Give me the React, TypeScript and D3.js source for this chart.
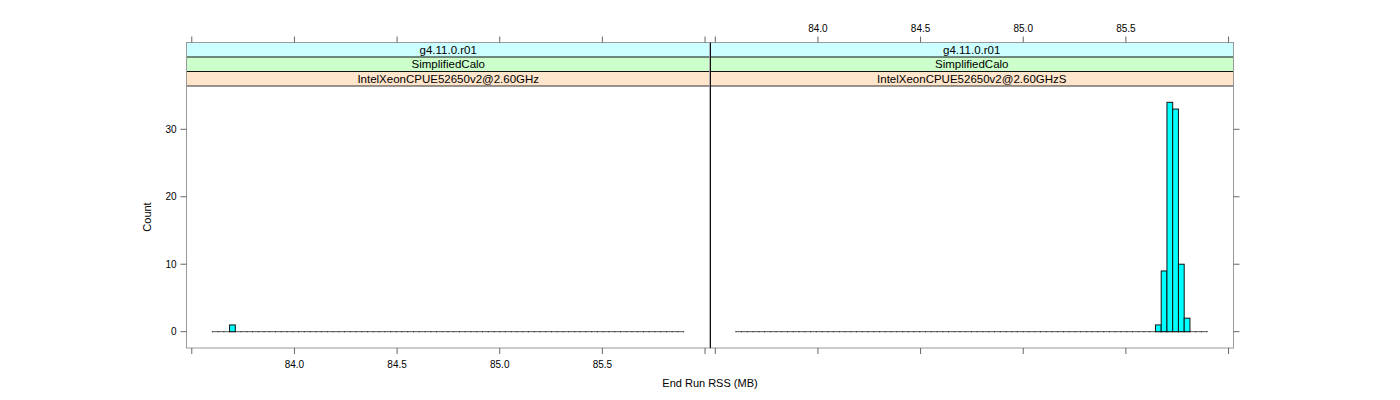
import React from "react";
import * as d3 from "d3";

// ---- data ----
const panelNames = ["IntelXeonCPUE52650v2@2.60GHz", "IntelXeonCPUE52650v2@2.60GHzS"];
const stripVersion = "g4.11.0.r01";
const stripTest = "SimplifiedCalo";
const breakStart = 83.6;
const breakEnd = 85.896;
const binWidth = 0.028;
// non-empty bins: left edge of bin and its count
const leftBinStarts = [83.684];
const leftCounts = [1];
const rightBinStarts = [85.644, 85.672, 85.7, 85.728, 85.756, 85.784];
const rightCounts = [1, 9, 34, 33, 10, 2];
const xTicks = [83.5, 84.0, 84.5, 85.0, 85.5, 86.0];
const xTickLabels = ["", "84.0", "84.5", "85.0", "85.5", ""];
const yTicks = [0, 10, 20, 30];
const xLabel = "End Run RSS (MB)";
const yLabel = "Count";

const FONT = "'Liberation Sans', Arial, Helvetica, sans-serif";

export default function App() {
  const panelW = 523.5;
  const panelLefts = [186.5, 710];
  const top = 86;
  const bottom = 348;
  const stripTop = 42.5;
  const stripH = (top - stripTop) / 3;

  const y = d3.scaleLinear().domain([-2.42, 36.42]).range([bottom, top]);
  const panels = [
    { starts: leftBinStarts, counts: leftCounts },
    { starts: rightBinStarts, counts: rightCounts },
  ];

  const nBins = Math.round((breakEnd - breakStart) / binWidth);
  const edges = d3.range(nBins + 1).map((i) => breakStart + i * binWidth);

  return (
    <svg
      width={1400}
      height={400}
      style={{ position: "absolute", left: 0, top: 0, background: "white" }}
      fontFamily={FONT}
    >
      {panels.map((p, pi) => {
        const L = panelLefts[pi];
        const x = d3.scaleLinear().domain([83.4742, 86.0242]).range([L, L + panelW]);
        const y0 = y(0);
        return (
          <g key={pi}>
            {/* strips */}
            {[
              { t: stripVersion, fill: "#CCFFFF" },
              { t: stripTest, fill: "#CCFFCC" },
              { t: panelNames[pi], fill: "#FFE5CC" },
            ].map((s, si) => (
              <g key={si}>
                <rect x={L} y={stripTop + si * stripH} width={panelW} height={stripH} fill={s.fill} />
                <text
                  x={L + panelW / 2}
                  y={stripTop + si * stripH + stripH / 2 + 4.2}
                  textAnchor="middle"
                  fontSize={11.5}
                  fill="#000"
                >
                  {s.t}
                </text>
              </g>
            ))}
            <line x1={L} x2={L + panelW} y1={stripTop} y2={stripTop} stroke="#888" />
            <line x1={L} x2={L + panelW} y1={stripTop + stripH} y2={stripTop + stripH} stroke="#111" />
            <line x1={L} x2={L + panelW} y1={stripTop + 2 * stripH} y2={stripTop + 2 * stripH} stroke="#111" />
            <line x1={L} x2={L + panelW} y1={top} y2={top} stroke="#333" />

            {/* baseline of histogram */}
            <line x1={x(breakStart)} x2={x(breakEnd)} y1={y0} y2={y0} stroke="#555" />
            {edges.map((e, i) => (
              <rect key={"e" + i} x={x(e) - 0.5} y={y0 - 0.5} width={1} height={1} fill="#222" />
            ))}
            {/* bars */}
            {p.starts.map((s, i) => (
              <rect
                key={"b" + i}
                x={x(s)}
                y={y(p.counts[i])}
                width={x(s + binWidth) - x(s)}
                height={y0 - y(p.counts[i])}
                fill="#00FFFF"
                stroke="#111"
                strokeWidth={1}
              />
            ))}

            {/* panel border */}
            <rect x={L} y={stripTop} width={panelW} height={bottom - stripTop} fill="none" stroke="#999" />

            {/* x ticks */}
            {xTicks.map((t, i) => (
              <g key={"xt" + i}>
                <line x1={x(t)} x2={x(t)} y1={bottom} y2={bottom + 6} stroke="#666" />
                <line x1={x(t)} x2={x(t)} y1={stripTop - 6} y2={stripTop} stroke="#666" />
                {pi === 0 && xTickLabels[i] && (
                  <text x={x(t)} y={bottom + 20} textAnchor="middle" fontSize={10}>
                    {xTickLabels[i]}
                  </text>
                )}
                {pi === 1 && xTickLabels[i] && (
                  <text x={x(t)} y={stripTop - 11} textAnchor="middle" fontSize={10}>
                    {xTickLabels[i]}
                  </text>
                )}
              </g>
            ))}

            {/* y ticks */}
            {yTicks.map((t, i) => (
              <g key={"yt" + i}>
                {pi === 0 && (
                  <>
                    <line x1={L - 6} x2={L} y1={y(t)} y2={y(t)} stroke="#666" />
                    <text x={L - 10} y={y(t) + 3.5} textAnchor="end" fontSize={10}>
                      {t}
                    </text>
                  </>
                )}
                {pi === 1 && (
                  <line x1={L + panelW} x2={L + panelW + 6} y1={y(t)} y2={y(t)} stroke="#666" />
                )}
              </g>
            ))}
          </g>
        );
      })}
      {/* separator */}
      <line x1={710.5} x2={710.5} y1={stripTop} y2={bottom} stroke="#111" />

      <text x={710} y={387} textAnchor="middle" fontSize={11}>
        {xLabel}
      </text>
      <text
        transform={`translate(151,${(top + bottom) / 2}) rotate(-90)`}
        textAnchor="middle"
        fontSize={11}
      >
        {yLabel}
      </text>
    </svg>
  );
}
